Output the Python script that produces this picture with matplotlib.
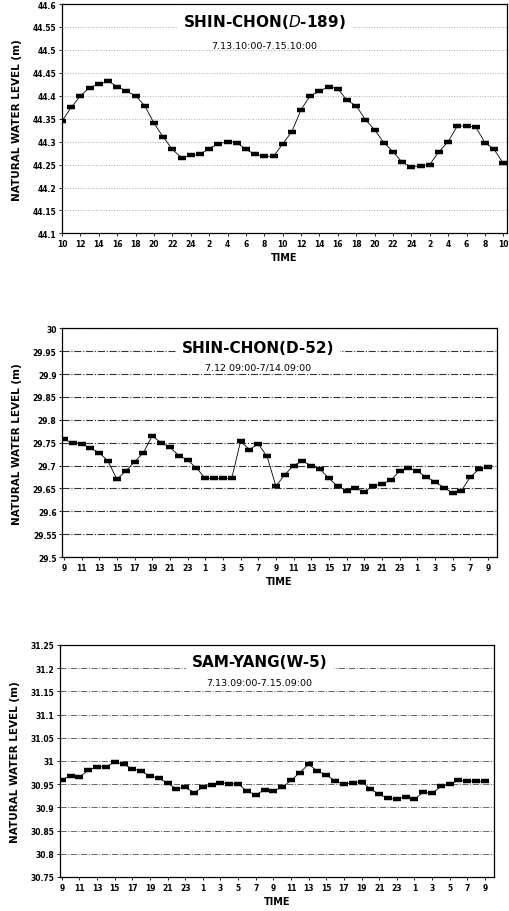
import numpy as np
from matplotlib import pyplot as plt

# hourly readings, 49 points (0..48 h)
d189_level = [44.345, 44.375, 44.400, 44.418, 44.425, 44.432, 44.420, 44.410, 44.400, 44.378,
              44.340, 44.310, 44.283, 44.265, 44.270, 44.272, 44.285, 44.295, 44.300, 44.298,
              44.283, 44.272, 44.268, 44.268, 44.295, 44.322, 44.370, 44.400, 44.410, 44.420,
              44.415, 44.390, 44.378, 44.348, 44.326, 44.298, 44.278, 44.255, 44.245, 44.247,
              44.250, 44.278, 44.300, 44.334, 44.334, 44.332, 44.298, 44.283, 44.253]

d52_level = [29.757, 29.750, 29.748, 29.738, 29.728, 29.710, 29.670, 29.688, 29.708, 29.728,
             29.765, 29.750, 29.740, 29.722, 29.712, 29.695, 29.672, 29.672, 29.672, 29.672,
             29.753, 29.735, 29.747, 29.720, 29.655, 29.680, 29.700, 29.710, 29.700, 29.692,
             29.672, 29.655, 29.645, 29.650, 29.643, 29.655, 29.660, 29.668, 29.688, 29.695,
             29.688, 29.675, 29.665, 29.652, 29.640, 29.645, 29.675, 29.692, 29.697]

w5_level = [30.960, 30.968, 30.965, 30.980, 30.988, 30.987, 30.998, 30.993, 30.983, 30.978,
            30.967, 30.963, 30.952, 30.940, 30.943, 30.932, 30.943, 30.948, 30.953, 30.951,
            30.951, 30.935, 30.927, 30.938, 30.936, 30.943, 30.958, 30.975, 30.993, 30.978,
            30.970, 30.957, 30.950, 30.953, 30.955, 30.940, 30.928, 30.920, 30.917, 30.923,
            30.917, 30.933, 30.930, 30.945, 30.950, 30.958, 30.957, 30.956, 30.956]

d189_xlabels = ["10", "12", "14", "16", "18", "20", "22", "24", "2", "4", "6", "8",
                "10", "12", "14", "16", "18", "20", "22", "24", "2", "4", "6", "8", "10"]
odd_xlabels = ["9", "11", "13", "15", "17", "19", "21", "23", "1", "3", "5", "7",
               "9", "11", "13", "15", "17", "19", "21", "23", "1", "3", "5", "7", "9"]

panels = [
    dict(y=d189_level, labels=d189_xlabels, ylim=(44.1, 44.6),
         title="SHIN-CHON($\\it{D}$-189)", sub="7.13.10:00-7.15.10:00",
         rect=[0.122, 0.743, 0.874, 0.2515], xlim=(0, 48.4),
         tpos=(0.454, 0.926, 0.817), grid=dict(color="#aaaaaa", ls=":", lw=0.7)),
    dict(y=d52_level, labels=odd_xlabels, ylim=(29.5, 30.0),
         title="SHIN-CHON(D-52)", sub="7.12 09:00-7/14.09:00",
         rect=[0.122, 0.388, 0.854, 0.251], xlim=(-0.2, 49.0),
         tpos=(0.45, 0.917, 0.83), grid=dict(color="#333333", ls="-.", lw=0.8)),
    dict(y=w5_level, labels=odd_xlabels, ylim=(30.75, 31.25),
         title="SAM-YANG(W-5)", sub="7.13.09:00-7.15.09:00",
         rect=[0.118, 0.0373, 0.852, 0.2544], xlim=(-0.2, 49.0),
         tpos=(0.46, 0.93, 0.84), grid=dict(color="#666666", ls="-.", lw=0.7)),
]

fig = plt.figure(figsize=(5.09, 9.12), dpi=100)

for p in panels:
    ax = fig.add_axes(p["rect"])
    hours = np.arange(len(p["y"]))
    ax.plot(hours, p["y"], color="black", lw=0.6, marker="_",
            markersize=5.5, markeredgewidth=3.2)
    ax.set_xlim(*p["xlim"])
    ax.set_ylim(*p["ylim"])
    ax.set_xticks(np.arange(0, 49, 2))
    ax.set_xticklabels(p["labels"], fontsize=5.5, fontweight="bold")
    yt = np.round(np.arange(p["ylim"][0], p["ylim"][1] + 0.001, 0.05), 2)
    ax.set_yticks(yt)
    ax.set_yticklabels([f"{v:g}" for v in yt], fontsize=5.5, fontweight="bold")
    ax.tick_params(length=2, width=0.6, pad=2)
    ax.grid(axis="y", **p["grid"])
    for s in ax.spines.values():
        s.set_linewidth(0.9)
    ax.set_ylabel("NATURAL WATER LEVEL (m)", fontsize=7.5, fontweight="bold", labelpad=8)
    ax.set_xlabel("TIME", fontsize=7, fontweight="bold", labelpad=3)
    tx, ty, sy = p["tpos"]
    ax.text(tx, ty, p["title"], transform=ax.transAxes, ha="center", va="center",
            fontsize=11, fontweight="bold", backgroundcolor="white")
    ax.text(tx, sy, p["sub"], transform=ax.transAxes, ha="center", va="center",
            fontsize=6.8)

plt.savefig("out.png", dpi=100)
